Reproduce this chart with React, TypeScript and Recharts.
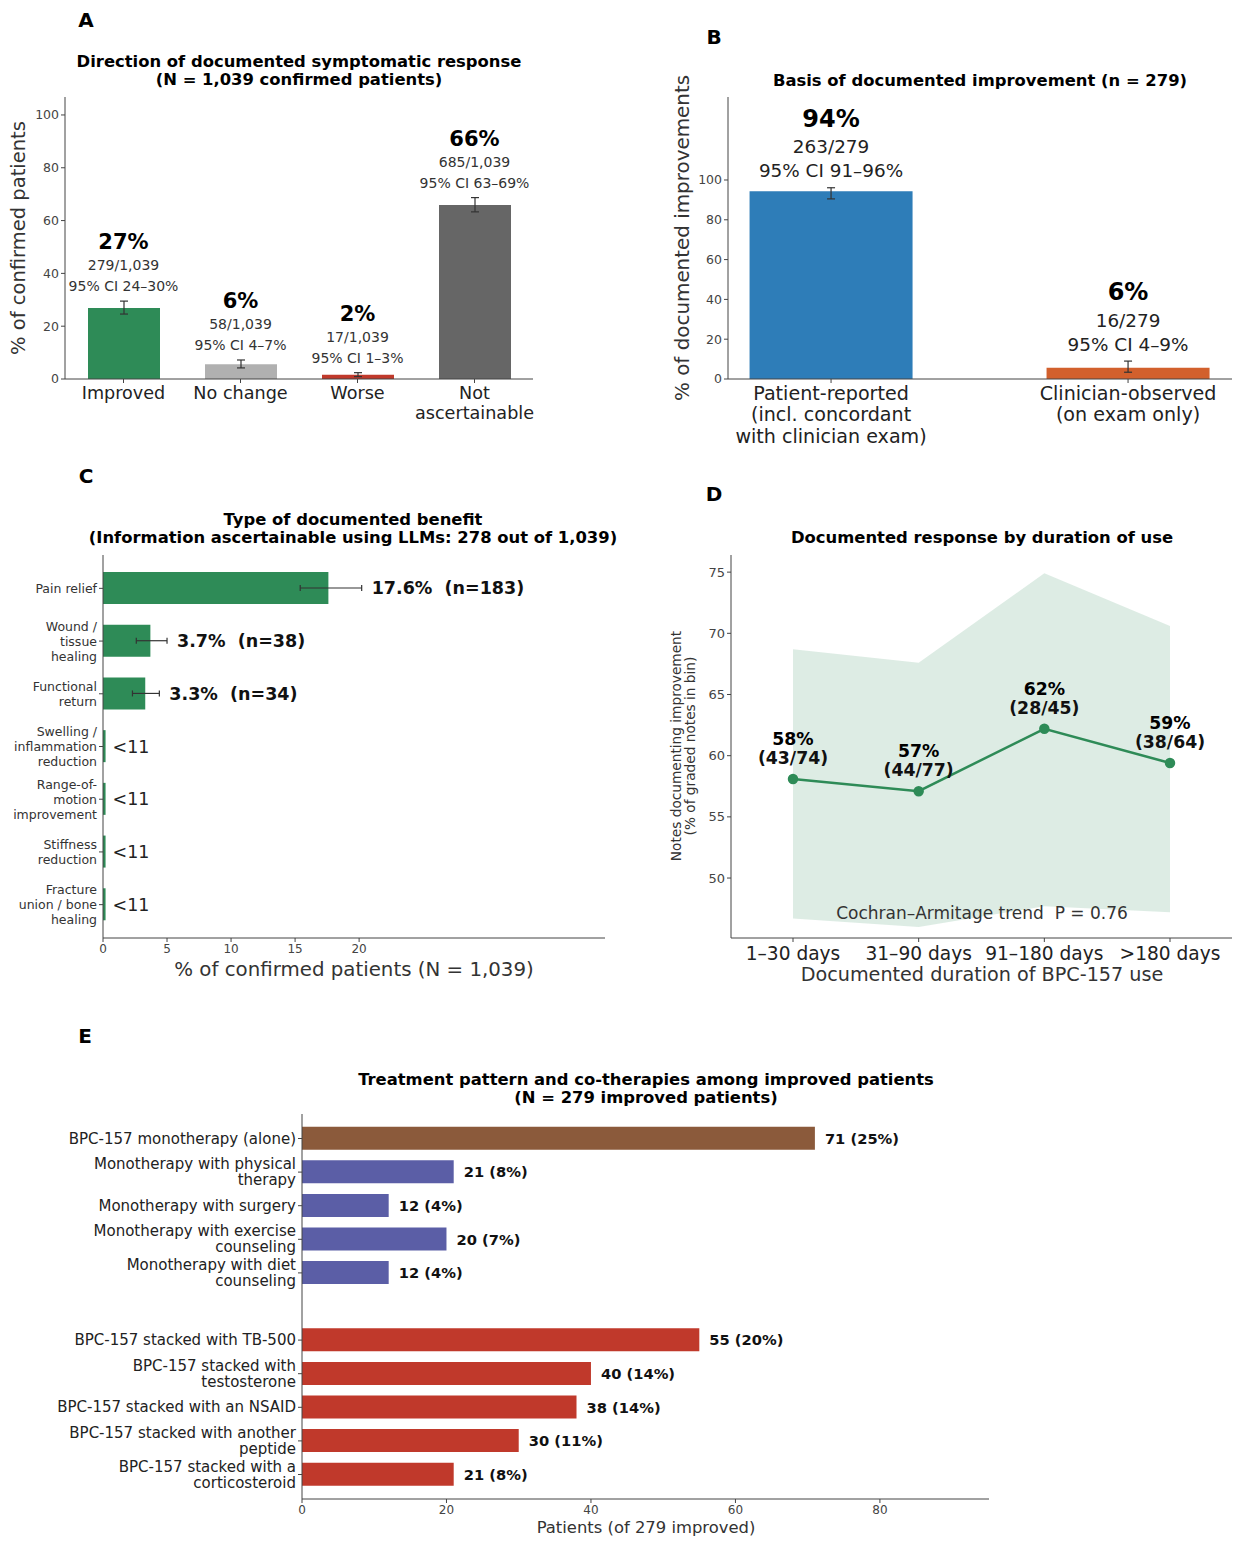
import React from "react";
import { ComposedChart, Bar, Line, Area, XAxis, YAxis, ErrorBar, LabelList, Cell } from "recharts";

const FONT = "'DejaVu Sans', sans-serif";
const INK = "#444444";
const GREEN = "#2e8b57";

// ---- A: direction of documented response
const aCategories = ["Improved", "No change", "Worse", "Not\nascertainable"];
const aPercent = [26.9, 5.6, 1.6, 65.9];
const aCiLow = [24.6, 4.2, 0.9, 63.3];
const aCiHigh = [29.5, 7.2, 2.4, 68.7];
const aHeadline = ["27%", "6%", "2%", "66%"];
const aCounts = ["279/1,039", "58/1,039", "17/1,039", "685/1,039"];
const aCiText = ["95% CI 24–30%", "95% CI 4–7%", "95% CI 1–3%", "95% CI 63–69%"];
const aTicks = [0, 20, 40, 60, 80, 100];
const aColors = [GREEN, "#b0b0b0", "#c0392b", "#666666"];

// ---- B: basis of improvement
const bCategories = ["Patient-reported\n(incl. concordant\nwith clinician exam)", "Clinician-observed\n(on exam only)"];
const bPercent = [94.3, 5.7];
const bCiLow = [90.5, 3.4];
const bCiHigh = [96.1, 9.0];
const bHeadline = ["94%", "6%"];
const bCounts = ["263/279", "16/279"];
const bCiText = ["95% CI 91–96%", "95% CI 4–9%"];
const bTicks = [0, 20, 40, 60, 80, 100];
const bColors = ["#2e7db8", "#d2602d"];

// ---- C: type of benefit
const cCategories = [
  "Pain relief",
  "Wound /\ntissue\nhealing",
  "Functional\nreturn",
  "Swelling /\ninflammation\nreduction",
  "Range-of-\nmotion\nimprovement",
  "Stiffness\nreduction",
  "Fracture\nunion / bone\nhealing",
];
const cPercent = [17.6, 3.7, 3.3, 0.2, 0.2, 0.2, 0.2];
const cCiLow = [15.4, 2.6, 2.3, null, null, null, null];
const cCiHigh = [20.2, 5.0, 4.4, null, null, null, null];
const cLabels = ["17.6%  (n=183)", "3.7%  (n=38)", "3.3%  (n=34)", "<11", "<11", "<11", "<11"];
const cTicks = [0, 5, 10, 15, 20];

// ---- D: response by duration
const dBins = ["1–30 days", "31–90 days", "91–180 days", ">180 days"];
const dImproved = [43, 44, 28, 38];
const dGraded = [74, 77, 45, 64];
const dPercent = [58.1, 57.1, 62.2, 59.4];
const dCiLow = [46.7, 46.0, 47.7, 47.2];
const dCiHigh = [68.7, 67.6, 74.9, 70.6];
const dPctText = ["58%", "57%", "62%", "59%"];
const dTicks = [50, 55, 60, 65, 70, 75];

// ---- E: treatment pattern
const eCategories = [
  "BPC-157 monotherapy (alone)",
  "Monotherapy with physical\ntherapy",
  "Monotherapy with surgery",
  "Monotherapy with exercise\ncounseling",
  "Monotherapy with diet\ncounseling",
  " ",
  "BPC-157 stacked with TB-500",
  "BPC-157 stacked with\ntestosterone",
  "BPC-157 stacked with an NSAID",
  "BPC-157 stacked with another\npeptide",
  "BPC-157 stacked with a\ncorticosteroid",
];
const ePatients = [71, 21, 12, 20, 12, null, 55, 40, 38, 30, 21];
const eShare = ["25%", "8%", "4%", "7%", "4%", "", "20%", "14%", "14%", "11%", "8%"];
const eGroup = ["alone", "mono", "mono", "mono", "mono", "", "stack", "stack", "stack", "stack", "stack"];
const eTicks = [0, 20, 40, 60, 80];
const GROUP_COLORS: Record<string, string> = { alone: "#8b5a3b", mono: "#5b5ea6", stack: "#c0392b", "": "none" };

const aData = aCategories.map((name, i) => ({
  name,
  pct: aPercent[i],
  err: [aPercent[i] - aCiLow[i], aCiHigh[i] - aPercent[i]],
  hi: aCiHigh[i],
  note: [aHeadline[i], aCounts[i], aCiText[i]].join("\n"),
}));

const bData = bCategories.map((name, i) => ({
  idx: i,
  pct: bPercent[i],
  err: [bPercent[i] - bCiLow[i], bCiHigh[i] - bPercent[i]],
  hi: bCiHigh[i],
  note: [bHeadline[i], bCounts[i], bCiText[i]].join("\n"),
}));

const cData = cCategories.map((name, i) => ({
  name,
  pct: cPercent[i],
  err: cCiLow[i] == null ? null : [cPercent[i] - (cCiLow[i] as number), (cCiHigh[i] as number) - cPercent[i]],
  at: cCiHigh[i] ?? cPercent[i],
  label: cLabels[i],
}));

const dData = dBins.map((bin, i) => ({
  bin,
  pct: dPercent[i],
  band: [dCiLow[i], dCiHigh[i]],
  note: `${dPctText[i]}\n(${dImproved[i]}/${dGraded[i]})`,
}));

const eData = eCategories.map((name, i) => ({
  name,
  n: ePatients[i],
  label: ePatients[i] == null ? "" : `${ePatients[i]} (${eShare[i]})`,
}));

const BottomTick = (props: any) => {
  const { x, y, payload, fontSize = 16, first = 8, lineH = 20, labels, color = "#222" } = props;
  const raw = labels ? labels[payload.value] : payload.value;
  const lines = String(raw ?? "").split("\n");
  return (
    <g>
      {lines.map((s, i) => (
        <text key={i} x={x} y={y + first + i * lineH} textAnchor="middle" dominantBaseline="central"
          fontSize={fontSize} fill={color} fontFamily={FONT}>{s}</text>
      ))}
    </g>
  );
};

const LeftTick = (props: any) => {
  const { x, y, payload, fontSize = 12.5, lineH = 15, color = "#333", mark } = props;
  const s = String(payload.value ?? "");
  if (!s.trim()) return null;
  const lines = s.split("\n");
  const top = y - ((lines.length - 1) * lineH) / 2;
  return (
    <g>
      {mark && <line x1={x + 2} x2={x + 6} y1={y} y2={y} stroke={INK} />}
      {lines.map((l, i) => (
        <text key={i} x={x} y={top + i * lineH} textAnchor="end" dominantBaseline="central"
          fontSize={fontSize} fill={color} fontFamily={FONT}>{l}</text>
      ))}
    </g>
  );
};

const pos = (props: any) => {
  const vb = props.viewBox || {};
  return { x: props.x ?? vb.x, y: props.y ?? vb.y, w: vb.width ?? props.width ?? 0, h: vb.height ?? props.height ?? 0 };
};

// stacked text above a point (headline + detail lines)
const stackLabel = (gaps: number[], sizes: number[], weights: number[], detail = "#333") => (props: any) => {
  const { x, y } = pos(props);
  if (x == null || y == null || props.value == null) return null;
  const lines = String(props.value).split("\n");
  return (
    <g>
      {lines.map((s, i) => (
        <text key={i} x={x} y={y - gaps[i]} textAnchor="middle" dominantBaseline="central" fontFamily={FONT}
          fontSize={sizes[i]} fontWeight={weights[i]} fill={i === 0 ? "#000" : detail}>{s}</text>
      ))}
    </g>
  );
};

const sideLabel = (props: any) => {
  const { x, y } = pos(props);
  if (x == null || y == null) return null;
  const s = String(props.value ?? "");
  const plain = s.startsWith("<");
  return (
    <text x={x + (plain ? 7 : 10)} y={y} dominantBaseline="central" fontSize={17.5} fontWeight={plain ? 400 : 700}
      fill={plain ? "#222" : "#111"} fontFamily={FONT} style={{ whiteSpace: "pre" }}>{s}</text>
  );
};

const barEndLabel = (props: any) => {
  const { x, y, w, h } = pos(props);
  const s = String(props.value ?? "");
  if (!s || x == null) return null;
  return (
    <text x={x + w + 10} y={y + h / 2} dominantBaseline="central" fontSize={14.7} fontWeight={700}
      fill="#111" fontFamily={FONT}>{s}</text>
  );
};

const numTick = (size: number) => ({ fontSize: size, fill: "#444", fontFamily: FONT });

const PanelA = () => (
  <ComposedChart width={560} height={350} data={aData} margin={{ top: 7, right: 27, bottom: 21, left: 25 }}>
    <XAxis dataKey="name" height={40} interval={0} stroke={INK} tickSize={4} tick={<BottomTick fontSize={17.6} first={8} lineH={20} />} />
    <YAxis width={40} domain={[0, 106.8]} ticks={aTicks} stroke={INK} tickSize={4} tick={numTick(12.5)} />
    <Bar dataKey="pct" barSize={72} isAnimationActive={false}>
      {aData.map((d, i) => <Cell key={d.name} fill={aColors[i]} />)}
      <ErrorBar dataKey="err" width={4} stroke="#333" strokeWidth={1.2} direction="y" />
    </Bar>
    <Line dataKey="hi" stroke="none" dot={false} activeDot={false} isAnimationActive={false}>
      <LabelList dataKey="note" content={stackLabel([59, 36, 15], [21, 14, 14], [700, 400, 400])} />
    </Line>
  </ComposedChart>
);

const PanelB = () => (
  <ComposedChart width={603} height={370} data={bData} margin={{ top: 7, right: 11, bottom: 21, left: 48 }}>
    <XAxis dataKey="idx" type="number" domain={[-0.347, 1.35]} ticks={[0, 1]} height={60} stroke={INK} tickSize={4}
      tick={<BottomTick labels={bCategories} fontSize={19.1} first={8} lineH={21.5} />} />
    <YAxis width={40} domain={[0, 141.7]} ticks={bTicks} stroke={INK} tickSize={4} tick={numTick(12.5)} />
    <Bar dataKey="pct" barSize={163} isAnimationActive={false}>
      {bData.map((d, i) => <Cell key={d.idx} fill={bColors[i]} />)}
      <ErrorBar dataKey="err" width={4} stroke="#333" strokeWidth={1.2} direction="y" />
    </Bar>
    <Line dataKey="hi" stroke="none" dot={false} activeDot={false} isAnimationActive={false}>
      <LabelList dataKey="note" content={stackLabel([69, 41, 17], [24, 18.4, 18.4], [700, 400, 400], "#222")} />
    </Line>
  </ComposedChart>
);

const PanelC = () => (
  <ComposedChart layout="vertical" width={620} height={445} data={cData} margin={{ top: 10, right: 15, bottom: 22, left: 8 }}>
    <XAxis type="number" domain={[0, 39.2]} ticks={cTicks} height={30} stroke={INK} tickSize={4} tick={numTick(12)} />
    <YAxis type="category" dataKey="name" width={95} interval={0} padding={{ top: 7, bottom: 7 }} stroke={INK} tickSize={4}
      tick={<LeftTick fontSize={12.5} lineH={15} />} />
    <Bar dataKey="pct" barSize={32} fill={GREEN} isAnimationActive={false}>
      <ErrorBar dataKey="err" width={3} stroke="#333" strokeWidth={1.2} direction="x" />
    </Bar>
    <Line dataKey="at" stroke="none" dot={false} activeDot={false} isAnimationActive={false}>
      <LabelList dataKey="label" content={sideLabel} />
    </Line>
  </ComposedChart>
);

const PanelD = () => (
  <ComposedChart width={603} height={445} data={dData} margin={{ top: 10, right: 11, bottom: 12, left: 51 }}>
    <XAxis dataKey="bin" height={40} interval={0} padding={{ left: 62, right: 62 }} stroke={INK} tickSize={4}
      tick={<BottomTick fontSize={18.6} first={9} lineH={20} />} />
    <YAxis width={40} domain={[45.1, 76.4]} ticks={dTicks} stroke={INK} tickSize={4} tick={numTick(13)} />
    <Area dataKey="band" type="linear" fill={GREEN} fillOpacity={0.16} stroke="none" isAnimationActive={false} />
    <Line dataKey="pct" type="linear" stroke={GREEN} strokeWidth={2.5} dot={{ r: 4, fill: GREEN, stroke: GREEN }}
      activeDot={false} isAnimationActive={false}>
      <LabelList dataKey="note" content={stackLabel([40, 21], [17.3, 17.3], [700, 700], "#111")} />
    </Line>
  </ComposedChart>
);

const PanelE = () => (
  <ComposedChart layout="vertical" width={1000} height={442} data={eData} margin={{ top: 9, right: 11, bottom: 23, left: 12 }}>
    <XAxis type="number" domain={[0, 95.1]} ticks={eTicks} height={25} stroke={INK} tickSize={4} tick={numTick(12)} />
    <YAxis type="category" dataKey="name" width={290} interval={0} padding={{ top: 7.7, bottom: 7.7 }} stroke={INK} tickSize={4}
      tickLine={false} tick={<LeftTick fontSize={15} lineH={16} color="#222" mark />} />
    <Bar dataKey="n" barSize={23} isAnimationActive={false}>
      {eData.map((d, i) => <Cell key={i} fill={GROUP_COLORS[eGroup[i]]} />)}
      <LabelList dataKey="label" content={barEndLabel} />
    </Bar>
  </ComposedChart>
);

type TxtProps = { x: number; y: number; size: number; bold?: boolean; color?: string; rotate?: boolean; lh?: number | string; children: React.ReactNode };
const Txt = ({ x, y, size, bold, color = "#111", rotate, lh = 1.1, children }: TxtProps) => (
  <div style={{
    position: "absolute", left: x, top: y,
    transform: `translate(-50%, -50%)${rotate ? " rotate(-90deg)" : ""}`,
    fontSize: size, fontWeight: bold ? 700 : 400, color, lineHeight: lh, whiteSpace: "nowrap",
    textAlign: "center", fontFamily: FONT,
  }}>{children}</div>
);

const Box = ({ left, top, children }: { left: number; top: number; children: React.ReactNode }) => (
  <div style={{ position: "absolute", left, top }}>{children}</div>
);

export default function App() {
  return (
    <div style={{ position: "absolute", left: 0, top: 0, width: 1243, height: 1547, background: "#fff", fontFamily: FONT, overflow: "hidden" }}>
      <Box left={0} top={90}><PanelA /></Box>
      <Box left={640} top={90}><PanelB /></Box>
      <Box left={0} top={545}><PanelC /></Box>
      <Box left={640} top={545}><PanelD /></Box>
      <Box left={0} top={1105}><PanelE /></Box>

      <Txt x={86} y={20} size={20} bold color="#000">A</Txt>
      <Txt x={299} y={71} size={16.4} bold color="#000">Direction of documented symptomatic response<br />(N = 1,039 confirmed patients)</Txt>
      <Txt x={19} y={238} size={19.5} rotate color="#333">% of confirmed patients</Txt>

      <Txt x={714} y={37} size={20} bold color="#000">B</Txt>
      <Txt x={980} y={81} size={16.4} bold color="#000">Basis of documented improvement (n = 279)</Txt>
      <Txt x={683} y={238} size={19.9} rotate color="#333">% of documented improvements</Txt>

      <Txt x={86} y={476} size={20} bold color="#000">C</Txt>
      <Txt x={353} y={529} size={16.4} bold color="#000">Type of documented benefit<br />(Information ascertainable using LLMs: 278 out of 1,039)</Txt>
      <Txt x={354} y={970} size={19.8} color="#333">% of confirmed patients (N = 1,039)</Txt>

      <Txt x={714} y={494} size={20} bold color="#000">D</Txt>
      <Txt x={982} y={538} size={16.4} bold color="#000">Documented response by duration of use</Txt>
      <Txt x={683} y={746} size={13.7} rotate color="#333" lh="14px">Notes documenting improvement<br />(% of graded notes in bin)</Txt>
      <Txt x={982} y={913} size={17} color="#333">Cochran–Armitage trend&nbsp;&nbsp;P = 0.76</Txt>
      <Txt x={982} y={975} size={19.2} color="#333">Documented duration of BPC-157 use</Txt>

      <Txt x={85} y={1036} size={20} bold color="#000">E</Txt>
      <Txt x={646} y={1089} size={16.4} bold color="#000">Treatment pattern and co-therapies among improved patients<br />(N = 279 improved patients)</Txt>
      <Txt x={646} y={1528} size={16.4} color="#333">Patients (of 279 improved)</Txt>
    </div>
  );
}
